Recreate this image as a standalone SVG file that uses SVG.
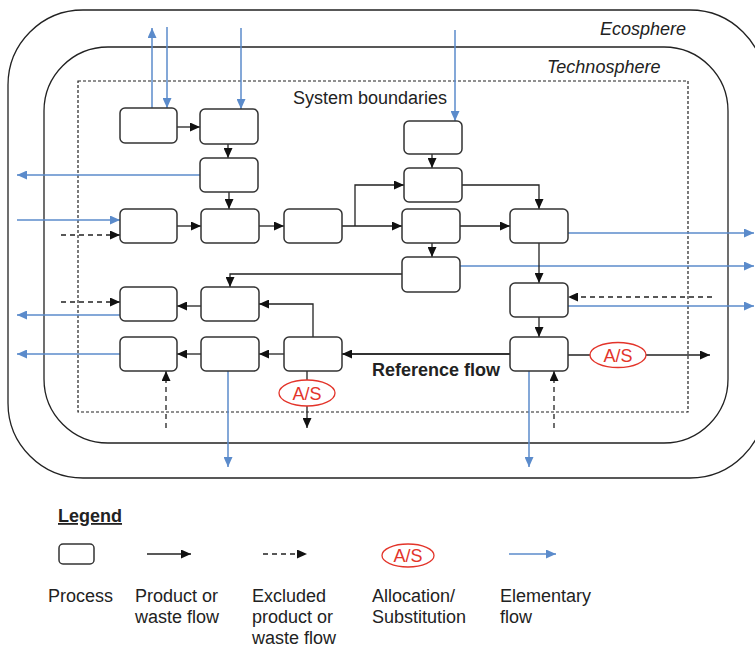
<svg xmlns="http://www.w3.org/2000/svg" width="755" height="647" viewBox="0 0 755 647">
<style>
text{font-family:"Liberation Sans",Arial,sans-serif;font-size:18px;fill:#222}
.it{font-style:italic}
.b{font-weight:bold}
.box{fill:#fff;stroke:#333;stroke-width:1.5}
.sph{fill:none;stroke:#222;stroke-width:1.3}
.sb{fill:none;stroke:#222;stroke-width:1.2;stroke-dasharray:3 2}
.f{fill:none;stroke:#222;stroke-width:1.3;marker-end:url(#ab)}
.fr{fill:none;stroke:#333;stroke-width:2;marker-end:url(#ab)}
.x{fill:none;stroke:#222;stroke-width:1.3;stroke-dasharray:5 4;marker-end:url(#ab)}
.e{fill:none;stroke:#5b8bcb;stroke-width:1.5;marker-end:url(#abl)}
.as ellipse{fill:#fff;stroke:#e3342a;stroke-width:1.3}
.as text{fill:#e3342a;text-anchor:middle}
</style>
<defs>
<marker id="ab" viewBox="0 0 10 9" refX="10" refY="4.5" markerWidth="10" markerHeight="9" markerUnits="userSpaceOnUse" orient="auto"><path d="M0,0 L10,4.5 L0,9 z" fill="#111"/></marker>
<marker id="abl" viewBox="0 0 10 9" refX="10" refY="4.5" markerWidth="10" markerHeight="9" markerUnits="userSpaceOnUse" orient="auto"><path d="M0,0 L10,4.5 L0,9 z" fill="#5b8bcb"/></marker>
</defs>
<rect width="755" height="647" fill="#fff"/>
<g id="boundaries">
<rect class="sph" x="8" y="10" width="757" height="468" rx="75"/>
<rect class="sph" x="44" y="47" width="684" height="396" rx="64"/>
<rect class="sb" x="78" y="81" width="610" height="331"/>
<text class="it" x="600" y="35">Ecosphere</text>
<text class="it" x="547" y="73">Technosphere</text>
<text x="293" y="104">System boundaries</text>
</g>
<g id="connectors">
<path class="e" d="M152,108 V28"/>
<path class="e" d="M167,27 V108"/>
<path class="e" d="M241,28 V109"/>
<path class="e" d="M200,175 H17"/>
<path class="e" d="M17,220 H120"/>
<path class="e" d="M455,30 V121"/>
<path class="e" d="M568,233 H754"/>
<path class="e" d="M460,266 H754"/>
<path class="e" d="M568,306 H754"/>
<path class="e" d="M120,315 H17"/>
<path class="e" d="M120,354 H17"/>
<path class="e" d="M228,371 V467"/>
<path class="e" d="M529,371 V467"/>
<path class="f" d="M177,127 H200"/>
<path class="f" d="M228,144 V158"/>
<path class="f" d="M229,192 V209"/>
<path class="f" d="M177,226 H201"/>
<path class="f" d="M259,226 H284"/>
<path class="f" d="M342,226 H402"/>
<path class="f" d="M355,226 V185 H404"/>
<path class="f" d="M432,154 V168"/>
<path class="f" d="M462,185 H539 V209"/>
<path class="f" d="M460,226 H510"/>
<path class="f" d="M432,243 V257"/>
<path class="f" d="M402,274 H230 V287"/>
<path class="f" d="M539,243 V283"/>
<path class="f" d="M539,317 V337"/>
<path class="f" d="M568,355 H710"/>
<path class="fr" d="M510,354 H342"/>
<path class="f" d="M284,354 H259"/>
<path class="f" d="M201,354 H177"/>
<path class="f" d="M313,337 V304 H259"/>
<path class="f" d="M201,306 H177"/>
<path class="f" d="M307,371 V428"/>
<path class="x" d="M712,297 H568"/>
<path class="x" d="M61,302 H120"/>
<path class="x" d="M61,235 H120"/>
<path class="x" d="M166,428 V371"/>
<path class="x" d="M554,428 V371"/>
</g>
<g id="nodes">
<g id="pA"><rect class="box" x="120" y="108" width="57" height="35" rx="5"/></g>
<g id="pB"><rect class="box" x="200" y="109" width="58" height="35" rx="5"/></g>
<g id="pC"><rect class="box" x="200" y="158" width="58" height="34" rx="5"/></g>
<g id="pD"><rect class="box" x="120" y="209" width="57" height="34" rx="5"/></g>
<g id="pE"><rect class="box" x="201" y="209" width="58" height="34" rx="5"/></g>
<g id="pF"><rect class="box" x="284" y="209" width="58" height="34" rx="5"/></g>
<g id="pG"><rect class="box" x="404" y="121" width="58" height="33" rx="5"/></g>
<g id="pH"><rect class="box" x="404" y="168" width="58" height="34" rx="5"/></g>
<g id="pI"><rect class="box" x="402" y="209" width="58" height="34" rx="5"/></g>
<g id="pJ"><rect class="box" x="510" y="209" width="58" height="34" rx="5"/></g>
<g id="pK"><rect class="box" x="402" y="257" width="58" height="35" rx="5"/></g>
<g id="pL"><rect class="box" x="510" y="283" width="58" height="34" rx="5"/></g>
<g id="pM"><rect class="box" x="510" y="337" width="58" height="34" rx="5"/></g>
<g id="pN"><rect class="box" x="120" y="287" width="57" height="34" rx="5"/></g>
<g id="pO"><rect class="box" x="201" y="287" width="58" height="34" rx="5"/></g>
<g id="pP"><rect class="box" x="120" y="337" width="57" height="34" rx="5"/></g>
<g id="pQ"><rect class="box" x="201" y="337" width="58" height="34" rx="5"/></g>
<g id="pR"><rect class="box" x="284" y="337" width="58" height="34" rx="5"/></g>
<g id="as1" class="as"><ellipse cx="307" cy="393" rx="28" ry="13"/><text x="307" y="399.5">A/S</text></g>
<g id="as2" class="as"><ellipse cx="618" cy="355" rx="28" ry="12.5"/><text x="618" y="361.5">A/S</text></g>
<text class="b" x="372" y="376">Reference flow</text>
</g>
<g id="legend">
<text class="b" x="58" y="522" text-decoration="underline">Legend</text>
<rect class="box" x="59" y="544" width="35" height="20" rx="4"/>
<path class="f" d="M147,554 H191"/>
<path class="x" d="M263,554 H307"/>
<g class="as"><ellipse cx="408" cy="555.5" rx="26" ry="11.5"/><text x="408" y="562">A/S</text></g>
<path class="e" d="M509,554 H556"/>
<text x="48" y="602">Process</text>
<text x="135" y="602">Product or</text>
<text x="135" y="623">waste flow</text>
<text x="252" y="602">Excluded</text>
<text x="252" y="623">product or</text>
<text x="252" y="644">waste flow</text>
<text x="372" y="602">Allocation/</text>
<text x="372" y="623">Substitution</text>
<text x="500" y="602">Elementary</text>
<text x="500" y="623">flow</text>
</g>
</svg>
